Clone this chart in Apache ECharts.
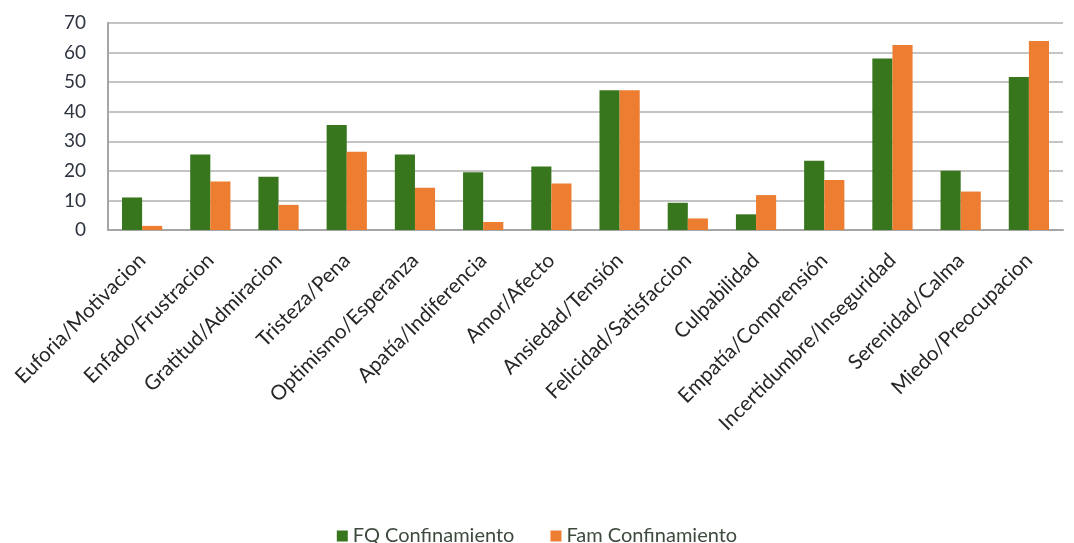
<!DOCTYPE html>
<html>
<head>
<meta charset="utf-8">
<script src="https://cdn.jsdelivr.net/npm/echarts@6/dist/echarts.min.js"></script>
<style>html,body{margin:0;padding:0;background:#fff;}#c{width:1074px;height:543px;}</style>
</head>
<body>
<div id="c"></div>
<script>
const categories = ["Euforia/Motivacion","Enfado/Frustracion","Gratitud/Admiracion","Tristeza/Pena","Optimismo/Esperanza","Apatía/Indiferencia","Amor/Afecto","Ansiedad/Tensión","Felicidad/Satisfaccion","Culpabilidad","Empatía/Comprensión","Incertidumbre/Inseguridad","Serenidad/Calma","Miedo/Preocupacion"];
const fqConfinamiento = [11, 25.5, 18, 35.5, 25.5, 19.5, 21.5, 47.3, 9.2, 5.3, 23.4, 58, 20, 51.7];
const famConfinamiento = [1.4, 16.4, 8.5, 26.5, 14.3, 2.7, 15.7, 47.3, 3.9, 11.8, 16.9, 62.6, 13, 63.9];
const yTicks = [0,10,20,30,40,50,60,70];

const chart = echarts.init(document.getElementById('c'));
chart.setOption({
  animation: false,
  grid: {left: 108, right: 11, top: 23, bottom: 313, containLabel: false},
  legend: {
    top: 521, left: 'center', itemWidth: 11, itemHeight: 11, itemGap: 36, icon: 'rect',
    textStyle: {fontFamily: 'Lato', fontSize: 20, color: '#3d4a3d'},
    data: ['FQ Confinamiento','Fam Confinamiento']
  },
  xAxis: {
    type: 'category', data: categories,
    axisLine: {lineStyle: {color: '#a6a6a6', width: 2}},
    axisTick: {show: false},
    axisLabel: {rotate: 45, interval: 0, fontFamily: 'Lato', fontSize: 20.5, color: '#262626', margin: 27}
  },
  yAxis: {
    type: 'value', min: yTicks[0], max: yTicks[yTicks.length-1], interval: 10,
    axisLine: {show: true, lineStyle: {color: '#a6a6a6', width: 2}},
    axisTick: {show: false},
    splitLine: {lineStyle: {color: '#c4c4c4', width: 2}},
    axisLabel: {fontFamily: 'Lato', fontSize: 19, color: '#2e3440', margin: 22}
  },
  series: [
    {name: 'FQ Confinamiento', type: 'bar', data: fqConfinamiento, barGap: '0%', barCategoryGap: '41%', itemStyle: {color: '#38761d'}},
    {name: 'Fam Confinamiento', type: 'bar', data: famConfinamiento, itemStyle: {color: '#ed7d31'}}
  ]
});
</script>
</body>
</html>
